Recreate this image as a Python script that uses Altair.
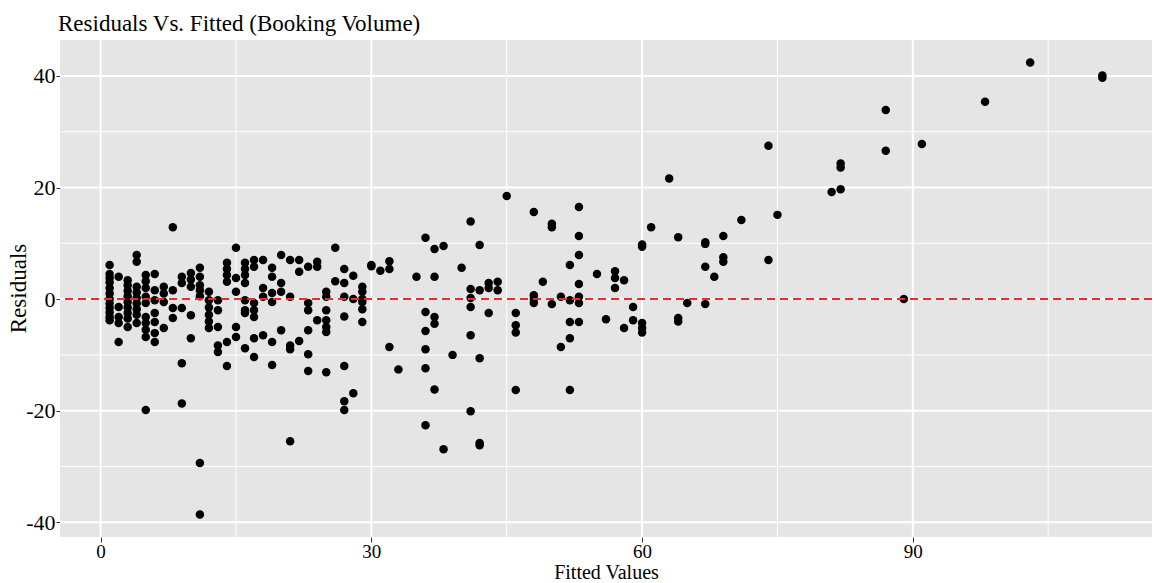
import altair as alt
import pandas as pd

# Fitted values (one entry per column of points) and the residuals observed at each
fitted_levels = [1, 2, 3, 4, 5, 6, 7, 8, 9, 10,
                 11, 12, 13, 14, 15, 16, 17, 18, 19, 20,
                 21, 22, 23, 24, 25, 26, 27, 28, 29, 30,
                 31, 32, 33, 35, 36, 37, 38, 39, 40, 41,
                 42, 43, 44, 45, 46, 48, 49, 50, 51, 52,
                 53, 55, 56, 57, 58, 59, 60, 61, 63, 64,
                 65, 67, 68, 69, 71, 74, 75, 81, 82, 87,
                 89, 91, 98, 103, 111]

residual_groups = [
    [6.1, 4.5, 3.8, 3.0, 2.0, 1.0, 0.0, -0.8, -1.6, -2.4, -3.2, -3.8],
    [4.0, -1.4, -3.2, -4.3, -7.7],
    [3.4, 2.5, 1.5, 0.5, -0.5, -1.5, -2.5, -3.5, -5.0],
    [7.9, 6.7, 2.2, 1.2, 0.2, -0.8, -1.8, -2.8, -4.3],
    [4.3, 3.2, 2.0, 0.4, -0.7, -3.2, -4.3, -5.5, -6.8, -19.9],
    [4.5, 1.6, -0.2, -2.5, -4.1, -6.1, -7.7],
    [2.2, 1.0, -0.5, -5.2],
    [12.9, 1.6, -1.6, -3.4],
    [4.0, 2.9, -1.6, -11.5, -18.7],
    [4.7, 3.5, 2.2, -2.9, -7.0],
    [5.6, 4.0, 2.5, 1.6, 0.5, -29.4, -38.6],
    [1.3, -0.2, -1.5, -2.8, -4.0, -5.2],
    [-0.2, -2.0, -5.0, -8.3, -9.5],
    [6.5, 5.4, 4.3, 3.1, -7.7, -12.0],
    [9.2, 3.8, 1.3, -5.0, -6.8],
    [6.5, 5.4, 4.3, 2.9, -0.2, -2.0, -2.5, -8.8],
    [7.0, 5.8, -0.7, -2.0, -3.2, -7.0, -10.4],
    [7.0, 2.0, 0.4, -6.5],
    [5.6, 4.0, 1.1, -0.5, -7.7, -11.8],
    [7.9, 2.9, 1.3, -5.6],
    [7.0, 0.4, -8.3, -9.0, -25.5],
    [7.0, 4.9, -7.5],
    [5.8, -0.7, -2.0, -5.6, -9.9, -12.9],
    [6.7, 5.8, -3.8],
    [1.3, 0.4, -2.0, -3.8, -5.0, -5.9, -13.1],
    [9.2, 3.2],
    [5.4, 2.9, 0.4, -3.1, -12.0, -18.3, -19.9],
    [4.2, 0.0, -16.9],
    [2.2, 1.3, 0.0, -0.5, -1.8, -4.1],
    [6.1, 5.9],
    [5.1],
    [6.8, 5.4, -8.6],
    [-12.6],
    [4.0],
    [11.0, -2.3, -5.7, -9.0, -12.4, -22.6],
    [9.0, 4.0, -3.2, -4.4, -16.2],
    [9.5, -26.9],
    [-10.0],
    [5.6],
    [13.9, 1.8, 0.2, -1.4, -6.5, -20.1],
    [9.7, 1.6, -10.6, -25.8, -26.2],
    [2.9, 2.0, -2.5],
    [3.1, 1.6],
    [18.5],
    [-2.5, -4.7, -6.0, -16.3],
    [15.6, 0.7, 0.0, -0.7],
    [3.1],
    [13.5, 12.9, -0.9],
    [0.4, -8.6],
    [6.1, -0.2, -4.1, -7.0, -16.3],
    [16.5, 11.3, 7.9, 2.7, 0.4, -0.7, -4.1],
    [4.5],
    [-3.6],
    [5.0, 3.8, 2.0],
    [3.4, -5.2],
    [-1.4, -3.8],
    [9.8, 9.4, -4.3, -5.2, -6.0],
    [12.9],
    [21.6],
    [11.1, -3.4, -4.0],
    [-0.7],
    [10.2, 9.9, 5.8, -0.9],
    [4.0],
    [11.3, 7.5, 6.7],
    [14.2],
    [27.5, 7.0],
    [15.1],
    [19.2],
    [24.3, 23.6, 19.7],
    [33.9, 26.6],
    [0.0],
    [27.8],
    [35.4],
    [42.4],
    [40.1, 39.7],
]

x_major = [0, 30, 60, 90]
x_minor = [15, 45, 75, 105]
y_major = [-40, -20, 0, 20, 40]
y_minor = [-30, -10, 10, 30]

rows = [
    {"fitted": f, "residual": r}
    for f, group in zip(fitted_levels, residual_groups)
    for r in group
]
points_df = pd.DataFrame(rows)

FONT = "Liberation Serif"

x_scale = alt.Scale(domain=[-4.5, 116.5], nice=False, zero=False)
y_scale = alt.Scale(domain=[-42.65, 46.45], nice=False, zero=False)

x_axis = alt.Axis(
    values=x_major, grid=False, domain=False,
    tickSize=5, tickColor="#333333", tickWidth=1,
    labelFont=FONT, labelFontSize=19, labelColor="black", labelPadding=0,
    title="Fitted Values", titleFont=FONT, titleFontSize=20,
    titleFontWeight="normal", titleColor="black",
    titleY=41, titleBaseline="alphabetic",
)
y_axis = alt.Axis(
    values=y_major, grid=False, domain=False,
    tickSize=4, tickColor="#333333", tickWidth=1,
    labelFont=FONT, labelFontSize=22, labelColor="black", labelPadding=1,
    labelExpr="datum.value < 0 ? '-' + format(-datum.value, 'd') : format(datum.value, 'd')",
    title="Residuals", titleFont=FONT, titleFontSize=23,
    titleFontWeight="normal", titleColor="black",
    titleX=-42, titleY=248, titleAngle=270, titleBaseline="middle",
)


def x_enc():
    return alt.X("fitted:Q", scale=x_scale, axis=x_axis)


def y_enc():
    return alt.Y("residual:Q", scale=y_scale, axis=y_axis)


# panel grid: thinner minor lines, thicker major lines
minor_v = alt.Chart(pd.DataFrame({"fitted": x_minor})).mark_rule(
    color="white", strokeWidth=1).encode(x=x_enc())
minor_h = alt.Chart(pd.DataFrame({"residual": y_minor})).mark_rule(
    color="white", strokeWidth=1).encode(y=y_enc())
major_v = alt.Chart(pd.DataFrame({"fitted": x_major})).mark_rule(
    color="white", strokeWidth=2).encode(x=x_enc())
major_h = alt.Chart(pd.DataFrame({"residual": y_major})).mark_rule(
    color="white", strokeWidth=2).encode(y=y_enc())

points = alt.Chart(points_df).mark_circle(
    size=72, color="black", opacity=1).encode(x=x_enc(), y=y_enc())

zero_line = alt.Chart(pd.DataFrame({"residual": [0]})).mark_rule(
    color="#EE2A2F", strokeWidth=2, strokeDash=[8, 5]).encode(y=y_enc())

chart = alt.layer(minor_v, minor_h, major_v, major_h, points, zero_line).properties(
    width=1092,
    height=497,
    background="white",
    padding={"left": 60, "top": 40, "right": 2, "bottom": 46},
    autosize=alt.AutoSizeParams(type="none"),
    title=alt.TitleParams(
        "Residuals Vs. Fitted (Booking Volume)",
        anchor="start", frame="group", font=FONT, fontSize=23,
        fontWeight="normal", color="black", offset=3, dx=-2,
    ),
).configure_view(fill="#E5E5E5", strokeWidth=0)

chart.save("out.html", embed_options={"renderer": "svg", "actions": False})
